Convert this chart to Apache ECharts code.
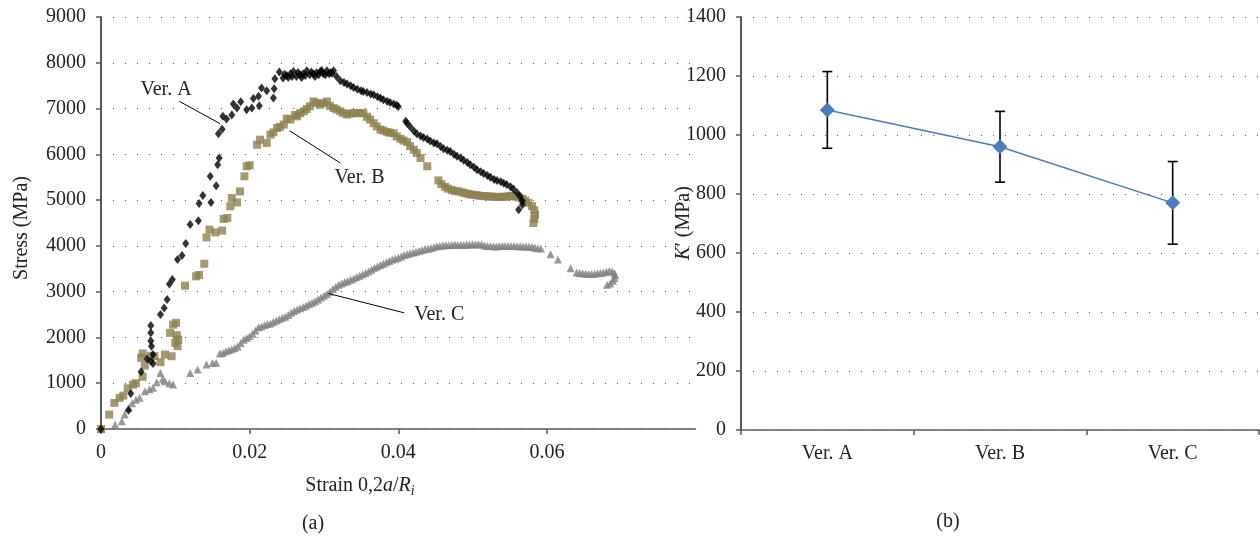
<!DOCTYPE html>
<html><head><meta charset="utf-8">
<script src="https://cdn.jsdelivr.net/npm/echarts@6/dist/echarts.min.js"></script>
<style>html,body{margin:0;padding:0;background:#fff}#c{width:1260px;height:537px}</style>
</head><body><div id="c"></div>
<script>
// ---- Data ----
const verA = [[0,0],[0.0037,410],[0.0040,775],[0.0054,1250],[0.0062,1530],[0.0070,1430],[0.0067,1480],[0.0070,1630],[0.0068,1810],[0.0067,1920],[0.0067,2100],[0.0067,2260],[0.0080,2500],[0.0085,2645],[0.0089,2830],[0.0092,3170],[0.0096,3265],[0.0103,3700],[0.0109,3790],[0.0114,4050],[0.0120,4465],[0.0131,4550],[0.0132,4925],[0.0148,4950],[0.0137,5100],[0.0155,5315],[0.0147,5520],[0.0157,5775],[0.0159,5920],[0.0158,6450],[0.0163,6550],[0.0164,6830],[0.0169,6770],[0.0176,6860],[0.0178,7100],[0.0183,7010],[0.0188,7150],[0.0196,6975],[0.0203,7010],[0.0205,7220],[0.0213,7060],[0.0212,7270],[0.0216,7450],[0.0223,7390],[0.0233,7430],[0.0232,7230],[0.0234,7650],[0.0240,7800],[0.0245,7670],[0.0247,7750],[0.0250,7720],[0.0252,7680],[0.0255,7760],[0.0257,7700],[0.0259,7810],[0.0263,7700],[0.0265,7790],[0.0268,7740],[0.0270,7680],[0.0272,7760],[0.0275,7720],[0.0277,7825],[0.0281,7740],[0.0283,7800],[0.0286,7755],[0.0288,7700],[0.0290,7780],[0.0293,7740],[0.0295,7810],[0.0297,7830],[0.0299,7760],[0.0302,7740],[0.0304,7825],[0.0307,7760],[0.0309,7790],[0.0311,7770],[0.0313,7825],[0.0317,7700],[0.0322,7610],[0.0327,7570],[0.0331,7535],[0.0336,7500],[0.0340,7460],[0.0345,7420],[0.0350,7390],[0.0353,7375],[0.0358,7350],[0.0363,7320],[0.0367,7300],[0.0372,7260],[0.0376,7230],[0.0380,7190],[0.0385,7160],[0.0389,7130],[0.0394,7100],[0.0398,7070],[0.0400,7045],[0.0410,6720],[0.0412,6680],[0.0416,6600],[0.0421,6510],[0.0425,6450],[0.0430,6400],[0.0434,6370],[0.0439,6335],[0.0443,6290],[0.0448,6250],[0.0452,6230],[0.0457,6170],[0.0461,6120],[0.0466,6090],[0.0470,6060],[0.0475,6000],[0.0479,5960],[0.0484,5920],[0.0488,5870],[0.0493,5820],[0.0497,5770],[0.0502,5720],[0.0506,5665],[0.0511,5620],[0.0515,5580],[0.0520,5535],[0.0524,5500],[0.0529,5450],[0.0533,5430],[0.0538,5400],[0.0542,5370],[0.0546,5340],[0.0551,5290],[0.0555,5240],[0.0560,5160],[0.0564,5080],[0.0567,4980],[0.0567,4900],[0.0562,4790]];

const verB = [[0,0],[0.0011,315],[0.0018,570],[0.0025,680],[0.0030,730],[0.0036,890],[0.0043,970],[0.0047,1000],[0.0056,1140],[0.0059,1385],[0.0054,1555],[0.0056,1650],[0.0067,1600],[0.0072,1590],[0.0080,1460],[0.0086,1625],[0.0095,1590],[0.0093,2100],[0.0097,2280],[0.0101,2320],[0.0100,1880],[0.0104,1950],[0.0103,1810],[0.0102,2050],[0.0113,3130],[0.0128,3335],[0.0132,3365],[0.0139,3610],[0.0142,4185],[0.0146,4355],[0.0154,4295],[0.0163,4335],[0.0165,4590],[0.0170,4610],[0.0174,4865],[0.0183,4950],[0.0176,5045],[0.0187,5190],[0.0193,5520],[0.0196,5740],[0.0200,5760],[0.0210,6210],[0.0214,6320],[0.0223,6250],[0.0228,6430],[0.0232,6480],[0.0237,6575],[0.0241,6600],[0.0246,6650],[0.0250,6780],[0.0255,6760],[0.0261,6860],[0.0264,6830],[0.0268,6900],[0.0273,6940],[0.0277,6990],[0.0281,7050],[0.0286,7155],[0.0290,7120],[0.0295,7085],[0.0299,7120],[0.0304,7155],[0.0308,7060],[0.0313,7010],[0.0317,6980],[0.0322,6940],[0.0326,6900],[0.0331,6870],[0.0335,6890],[0.0340,6900],[0.0344,6900],[0.0349,6900],[0.0353,6900],[0.0358,6820],[0.0362,6760],[0.0367,6680],[0.0371,6610],[0.0376,6540],[0.0380,6520],[0.0385,6490],[0.0389,6470],[0.0394,6460],[0.0398,6390],[0.0403,6340],[0.0407,6300],[0.0412,6270],[0.0416,6180],[0.0421,6101],[0.0425,6030],[0.0430,5920],[0.0439,5740],[0.0454,5430],[0.0458,5350],[0.0463,5290],[0.0467,5250],[0.0472,5220],[0.0476,5200],[0.0481,5190],[0.0486,5170],[0.0490,5150],[0.0495,5130],[0.0499,5120],[0.0504,5110],[0.0508,5100],[0.0513,5090],[0.0517,5085],[0.0522,5080],[0.0526,5075],[0.0531,5070],[0.0535,5070],[0.0540,5070],[0.0544,5075],[0.0549,5085],[0.0553,5095],[0.0558,5080],[0.0562,5060],[0.0567,5030],[0.0571,4990],[0.0575,4940],[0.0580,4870],[0.0583,4780],[0.0584,4680],[0.0583,4590],[0.0582,4500]];

const verC = [[0,0],[0.0019,100],[0.0028,170],[0.0032,315],[0.0037,460],[0.0042,560],[0.0047,640],[0.0052,680],[0.0059,825],[0.0065,870],[0.0070,900],[0.0075,1020],[0.0080,1225],[0.0083,1100],[0.0086,1045],[0.0092,1000],[0.0097,970],[0.0120,1225],[0.0130,1300],[0.0142,1410],[0.0150,1440],[0.0155,1445],[0.0160,1650],[0.0164,1660],[0.0168,1700],[0.0172,1720],[0.0176,1740],[0.0180,1770],[0.0184,1800],[0.0188,1880],[0.0192,1950],[0.0196,1990],[0.0200,2025],[0.0204,2080],[0.0208,2150],[0.0212,2220],[0.0216,2240],[0.0220,2270],[0.0224,2295],[0.0228,2305],[0.0232,2340],[0.0236,2370],[0.0240,2400],[0.0244,2430],[0.0248,2450],[0.0252,2490],[0.0256,2540],[0.0260,2580],[0.0264,2610],[0.0268,2640],[0.0272,2665],[0.0276,2695],[0.0280,2730],[0.0284,2760],[0.0288,2790],[0.0292,2830],[0.0296,2870],[0.0300,2910],[0.0304,2950],[0.0308,3000],[0.0312,3060],[0.0316,3110],[0.0320,3150],[0.0324,3180],[0.0328,3210],[0.0332,3230],[0.0336,3260],[0.0340,3290],[0.0344,3320],[0.0348,3350],[0.0352,3380],[0.0356,3410],[0.0360,3440],[0.0364,3480],[0.0368,3520],[0.0372,3550],[0.0376,3580],[0.0380,3610],[0.0384,3640],[0.0388,3670],[0.0392,3700],[0.0396,3720],[0.0400,3740],[0.0404,3770],[0.0408,3800],[0.0412,3820],[0.0416,3840],[0.0420,3855],[0.0424,3870],[0.0428,3890],[0.0432,3910],[0.0436,3925],[0.0440,3940],[0.0444,3950],[0.0448,3970],[0.0452,3990],[0.0456,4000],[0.0460,4010],[0.0464,4020],[0.0468,4015],[0.0472,4020],[0.0476,4030],[0.0480,4020],[0.0484,4025],[0.0488,4020],[0.0492,4030],[0.0496,4025],[0.0500,4035],[0.0504,4030],[0.0508,4035],[0.0512,4030],[0.0516,4010],[0.0520,4000],[0.0524,3995],[0.0528,3990],[0.0532,3985],[0.0536,4000],[0.0540,4000],[0.0544,3995],[0.0548,4000],[0.0552,3995],[0.0556,3995],[0.0560,3990],[0.0564,3990],[0.0568,3985],[0.0572,3985],[0.0576,3980],[0.0580,3975],[0.0584,3960],[0.0588,3950],[0.0592,3945],[0.0605,3820],[0.0615,3705],[0.0632,3510],[0.0640,3420],[0.0644,3410],[0.0648,3400],[0.0652,3390],[0.0656,3385],[0.0660,3385],[0.0664,3390],[0.0668,3400],[0.0672,3410],[0.0676,3420],[0.0680,3435],[0.0684,3450],[0.0688,3440],[0.0691,3400],[0.0692,3360],[0.0691,3300],[0.0689,3240],[0.0685,3180],[0.0681,3150]];

const versions = ['Ver. A', 'Ver. B', 'Ver. C'];
const kPrime = [1085, 960, 770];
const kLow = [955, 840, 630];
const kHigh = [1215, 1080, 910];

const stressTicks = { min: 0, max: 9000, interval: 1000 };
const strainTicks = { min: 0, max: 0.08, interval: 0.02 };
const kTicks = { min: 0, max: 1400, interval: 200 };

// annotation leader lines (data coords) and label anchors
const leaderLines = [[[0.01055, 7157], [0.01603, 6670]], [[0.02536, 6517], [0.03219, 5812]], [[0.03061, 2960], [0.04081, 2537]]];
const leaderLabels = ['Ver. A', 'Ver. B', 'Ver. C'];
const leaderLabelPos = [[0.00875, 7413], [0.0348, 5498], [0.04552, 2500]];

// ---- Chart ----
const FONT = '"Liberation Serif", "DejaVu Serif", serif';
const FS = 20;
const NS = 20;
const TXT = '#222';
const axisCol = '#595959';
const gridDots = { color: '#555', width: 1, type: [1, 11] };

const chart = echarts.init(document.getElementById('c'), null, { renderer: 'canvas' });

const errData = versions.map((v, i) => [i, kLow[i], kHigh[i]]);

chart.setOption({
  animation: false,
  backgroundColor: '#fff',
  grid: [
    { left: 101, top: 17, width: 594.5, height: 412 },
    { left: 741, top: 17, width: 518, height: 413 }
  ],
  xAxis: [
    {
      gridIndex: 0, type: 'value', min: strainTicks.min, max: strainTicks.max, interval: strainTicks.interval,
      axisLine: { lineStyle: { color: axisCol, width: 1.5 } },
      axisTick: { show: true, length: 5, lineStyle: { color: axisCol, width: 1.5 } },
      splitLine: { show: false },
      axisLabel: { color: TXT, fontFamily: FONT, fontSize: FS, margin: 14, showMaxLabel: false,
        formatter: v => v === 0 ? '0' : String(+v.toFixed(2)) }
    },
    {
      gridIndex: 1, type: 'category', data: versions, boundaryGap: true,
      axisLine: { lineStyle: { color: axisCol, width: 1.5 } },
      axisTick: { show: true, length: 5, alignWithLabel: false, lineStyle: { color: axisCol, width: 1.5 } },
      axisLabel: { color: TXT, fontFamily: FONT, fontSize: FS, margin: 14 },
      splitLine: { show: false }
    }
  ],
  yAxis: [
    {
      gridIndex: 0, type: 'value', min: stressTicks.min, max: stressTicks.max, interval: stressTicks.interval,
      axisLine: { show: true, lineStyle: { color: axisCol, width: 2 } },
      axisTick: { show: true, length: 5, lineStyle: { color: axisCol, width: 1.5 } },
      splitLine: { show: true, lineStyle: gridDots },
      axisLabel: { color: TXT, fontFamily: FONT, fontSize: FS, margin: 15, formatter: v => String(v) }
    },
    {
      gridIndex: 1, type: 'value', min: kTicks.min, max: kTicks.max, interval: kTicks.interval,
      axisLine: { show: true, lineStyle: { color: axisCol, width: 2 } },
      axisTick: { show: true, length: 5, lineStyle: { color: axisCol, width: 1.5 } },
      splitLine: { show: true, lineStyle: gridDots },
      axisLabel: { color: TXT, fontFamily: FONT, fontSize: FS, margin: 15, formatter: v => String(v) }
    }
  ],
  series: [
    { type: 'scatter', xAxisIndex: 0, yAxisIndex: 0, data: verC, symbol: 'triangle', symbolSize: 8,
      itemStyle: { color: '#808080' }, z: 2 },
    { type: 'scatter', xAxisIndex: 0, yAxisIndex: 0, data: verB, symbol: 'rect', symbolSize: 8,
      itemStyle: { color: '#8c7f4f' }, z: 3 },
    { type: 'scatter', xAxisIndex: 0, yAxisIndex: 0, data: verA, symbol: 'diamond', symbolSize: [7, 9],
      itemStyle: { color: '#000' }, z: 4,
      markLine: {
        silent: true, symbol: ['none', 'none'], label: { show: false },
        lineStyle: { color: '#000', width: 1, type: 'solid' },
        data: leaderLines.map(l => [{ coord: l[0] }, { coord: l[1] }])
      }
    },
    {
      type: 'custom', xAxisIndex: 1, yAxisIndex: 1, data: errData, z: 2,
      renderItem: (params, api) => {
        const x = api.value(0);
        const lo = api.coord([x, api.value(1)]);
        const hi = api.coord([x, api.value(2)]);
        const hw = 5;
        const st = { stroke: '#000', lineWidth: 1.6 };
        return { type: 'group', children: [
          { type: 'line', shape: { x1: lo[0], y1: lo[1], x2: hi[0], y2: hi[1] }, style: st },
          { type: 'line', shape: { x1: hi[0] - hw, y1: hi[1], x2: hi[0] + hw, y2: hi[1] }, style: st },
          { type: 'line', shape: { x1: lo[0] - hw, y1: lo[1], x2: lo[0] + hw, y2: lo[1] }, style: st }
        ]};
      }
    },
    { type: 'line', xAxisIndex: 1, yAxisIndex: 1, data: kPrime, symbol: 'diamond', symbolSize: 15,
      itemStyle: { color: '#4a7ebb' }, lineStyle: { color: '#4a7ebb', width: 1.5 }, z: 5 }
  ]
});

const textStyle = (t, extra) => Object.assign({ text: t, fill: TXT, font: NS + 'px ' + FONT, textAlign: 'center', textVerticalAlign: 'middle' }, extra || {});
const richDefs = {
  n: { fontFamily: FONT, fontSize: NS, fill: TXT, lineHeight: 24 },
  i: { fontFamily: FONT, fontSize: NS, fontStyle: 'italic', fill: TXT, lineHeight: 24 },
  s: { fontFamily: FONT, fontSize: 14, fontStyle: 'italic', fill: TXT, lineHeight: 14, verticalAlign: 'bottom' }
};

const graphics = leaderLabels.map((t, i) => {
  const p = chart.convertToPixel({ xAxisIndex: 0, yAxisIndex: 0 }, leaderLabelPos[i]);
  return { type: 'text', x: p[0], y: p[1], style: textStyle(t) };
});
// axis titles
graphics.push({ type: 'text', x: 22, y: 228, rotation: Math.PI / 2, style: textStyle('Stress (MPa)') });
graphics.push({ type: 'text', x: 360, y: 486, style: textStyle('{n|Strain 0,2}{i|a}{n|/}{i|R}{s|i}', { rich: richDefs }) });
graphics.push({ type: 'text', x: 684, y: 223, rotation: Math.PI / 2, style: textStyle('{i|K}{n|′ (MPa)}', { rich: richDefs }) });
// panel captions
graphics.push({ type: 'text', x: 313, y: 524, style: textStyle('(a)') });
graphics.push({ type: 'text', x: 948, y: 522, style: textStyle('(b)') });
chart.setOption({ graphic: graphics });
</script></body></html>
